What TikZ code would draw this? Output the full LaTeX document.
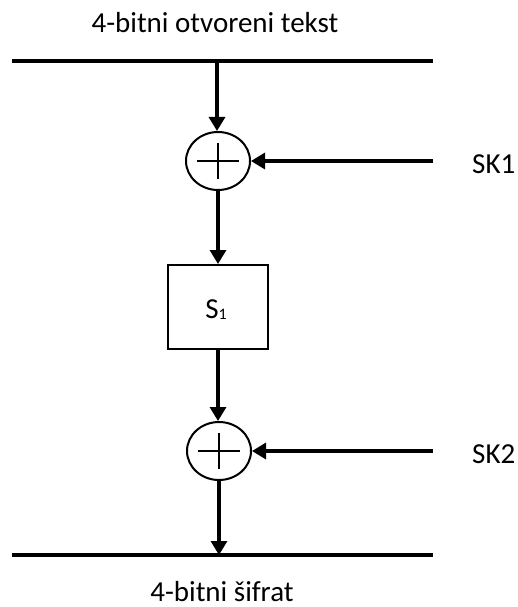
\documentclass[tikz,border=0pt]{standalone}
\usepackage{fontspec}
\setmainfont{Carlito}
\usetikzlibrary{arrows.meta,shapes.geometric}

\tikzset{
	xorsym/.style={ellipse,draw,line width=2pt,minimum width=64pt,minimum height=58pt,inner sep=0pt},
	sbox/.style={rectangle,draw,line width=2pt,minimum width=100pt,minimum height=84pt,inner sep=0pt},
	flow/.style={->,line width=3.2pt},
	rail/.style={line width=3.6pt},
	lbl/.style={font=\fontsize{29}{32}\selectfont,inner sep=0pt}
}

\begin{document}
\begin{tikzpicture}
			[line cap=butt,line join=miter,>={Triangle[length=14pt,width=16pt]},x=1pt,y=-1pt]
			\useasboundingbox (0,0) rectangle (517,607);
			% ulaz i izlaz
			\coordinate (inl) at (12,61);
			\coordinate (inr) at (433,61);
			\coordinate (in) at (217,61);
			\coordinate (outl) at (12,555);
			\coordinate (outr) at (433,555);
			\coordinate (out) at (218,555);
			\coordinate (k1) at (433,161);
			\coordinate (k2) at (433,451);
			\draw [rail] (inl) -- (inr);
			\draw [rail] (outl) -- (outr);
			\node [lbl,anchor=base] (ptxt) at (215,33) {4-bitni otvoreni tekst};
			\node [lbl,anchor=base] (ctxt) at (222,601) {4-bitni šifrat};
			% blokovi
			\node [xorsym] (xor1) at (218,161) {};
			\node [sbox] (s1) at (218,307) {};
			\node [lbl,anchor=base] (s1txt) at (216,318) {S{\fontsize{16}{16}\selectfont\raisebox{-1pt}{1}}};
			\node [xorsym] (xor2) at (219,451) {};
			\draw [line width=2.6pt] ([xshift=-21pt]xor1.center) -- ([xshift=21pt]xor1.center);
			\draw [line width=2.6pt] ([yshift=-18pt]xor1.center) -- ([yshift=18pt]xor1.center);
			\draw [line width=2.6pt] ([xshift=-21pt]xor2.center) -- ([xshift=21pt]xor2.center);
			\draw [line width=2.6pt] ([yshift=-18pt]xor2.center) -- ([yshift=18pt]xor2.center);
			% kljucevi
			\node [lbl,anchor=base west] (sk1) at (472,173) {SK1};
			\node [lbl,anchor=base west] (sk2) at (472,463) {SK2};
			% veze
			\draw [flow] (in) -- (in |- xor1.north);
			\draw [flow] (xor1.south) -- (xor1.south |- s1.north);
			\draw [flow] (s1.south) -- (s1.south |- xor2.north);
			\draw [flow] (xor2.south) -- (xor2.south |- out);
			\draw [flow] (k1) -- (xor1.east);
			\draw [flow] (k2) -- (xor2.east);
		\end{tikzpicture}
\end{document}
